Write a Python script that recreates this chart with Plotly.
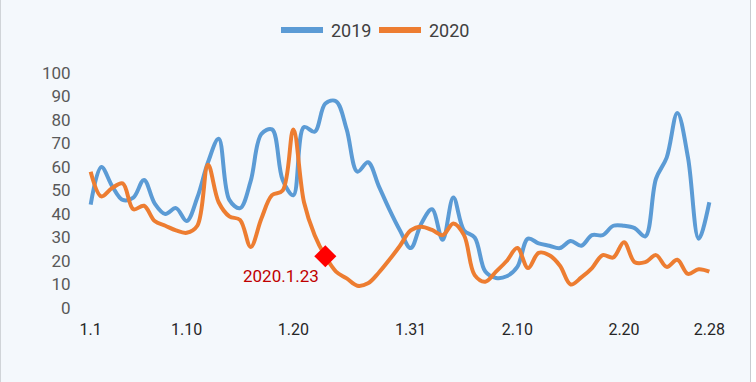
import plotly.graph_objects as go

dates = [f"1.{d}" for d in range(1, 32)] + [f"2.{d}" for d in range(1, 29)]

y2019 = [44, 60, 52, 46, 47, 54.5, 44.5, 40, 42.5, 37,
         47, 62, 72, 46, 42.5, 54, 74, 76, 54.5, 48,
         77, 75, 87, 88, 76, 58, 62, 52, 42, 33,
         25.5, 36, 42, 29, 47, 33, 30, 15.5, 12.8, 13.5,
         17.5, 29.5, 27.5, 26.5, 25.5, 28.5, 26.5, 31, 31, 35,
         35, 34, 30.5, 55, 64, 83, 64, 29.5, 45]

y2020 = [58, 47.5, 51, 53, 42, 43.5, 37, 35, 33, 32,
         35, 61, 45, 39, 37.5, 26, 38, 48, 50, 76,
         45, 31, 22, 15.5, 12.6, 9.5, 10.5, 15, 20.5, 26.5,
         33, 34.6, 33.2, 31, 36, 31, 14, 11.2, 15.5, 20,
         25.5, 17, 23.5, 22.5, 18, 10, 13, 17, 22.5, 21.5,
         28, 19.5, 19.5, 22.5, 17.5, 20.5, 14.5, 16.5, 15.5]

series_names = ["2019", "2020"]
tick_labels = ["1.1", "1.10", "1.20", "1.31", "2.10", "2.20", "2.28"]
y_ticks = list(range(0, 101, 10))

mark_date = "1.23"
mark_label = "2020.1.23"
mark_index = dates.index(mark_date)
mark_value = y2020[mark_index]

BLUE = "#5b9bd5"
ORANGE = "#ed7d31"
BG = "#f4f8fc"
colors = [BLUE, ORANGE]

# plot-area geometry (pixels) used to place legend items in paper coords
L, R, T, B = 80, 720, 73, 308
def px(xp):
    return (xp - L) / (R - L)
def py(yp):
    return (B - yp) / (B - T)

fig = go.Figure()
for name, vals, col in zip(series_names, [y2019, y2020], colors):
    fig.add_trace(go.Scatter(x=dates, y=vals, name=name, mode="lines",
                             line=dict(color=col, width=4, shape="spline", smoothing=1)))
fig.add_trace(go.Scatter(x=[mark_date], y=[mark_value], mode="markers", showlegend=False,
                         marker=dict(symbol="diamond", size=17, color="#ff0000",
                                     line=dict(width=0))))

fig.add_annotation(x=mark_index, y=mark_value, text=mark_label, showarrow=False,
                   xanchor="right", yanchor="top", xshift=-4, yshift=-8,
                   font=dict(family="Roboto", size=17, color="#c00000"))

# custom legend (long thick swatches like the reference)
leg_x = [279, 377]
for name, col, x0 in zip(series_names, colors, leg_x):
    fig.add_shape(type="line", xref="paper", yref="paper",
                  x0=px(x0 + 2), x1=px(x0 + 44), y0=py(30), y1=py(30),
                  line=dict(color=col, width=6))
    fig.add_annotation(xref="paper", yref="paper", x=px(x0 + 50), y=py(30),
                       text=name, showarrow=False, xanchor="left", yanchor="middle",
                       font=dict(family="Roboto", size=18, color="#404040"))

# frame edges of the original screenshot
fig.add_shape(type="rect", xref="paper", yref="paper",
              x0=px(750.5), x1=px(770), y0=-0.5, y1=1.5,
              fillcolor="#ffffff", line=dict(color="#c8ccd0", width=1), layer="above")
fig.add_shape(type="line", xref="paper", yref="paper",
              x0=px(0.5), x1=px(0.5), y0=-0.5, y1=1.5,
              line=dict(color="#d0d4d8", width=1), layer="above")

fig.update_layout(
    width=756, height=382,
    margin=dict(l=L, r=756 - R, t=T, b=382 - B, pad=0, autoexpand=False),
    paper_bgcolor=BG, plot_bgcolor=BG,
    showlegend=False,
    xaxis=dict(type="category", range=[-1, 59], tickmode="array", tickvals=tick_labels,
               ticktext=tick_labels, showgrid=False, zeroline=False, showline=False,
               ticks="outside", ticklen=7, tickcolor="rgba(0,0,0,0)",
               tickfont=dict(family="Roboto", size=16, color="#262626")),
    yaxis=dict(range=[0, 100], tickmode="array", tickvals=y_ticks, showgrid=False,
               zeroline=False, showline=False, ticks="outside", ticklen=5,
               tickcolor="rgba(0,0,0,0)",
               tickfont=dict(family="Roboto", size=17, color="#595959")),
)

fig.write_html("out.html", config={"displayModeBar": False},
               post_script="document.body.style.margin='0';document.body.style.overflow='hidden';")
